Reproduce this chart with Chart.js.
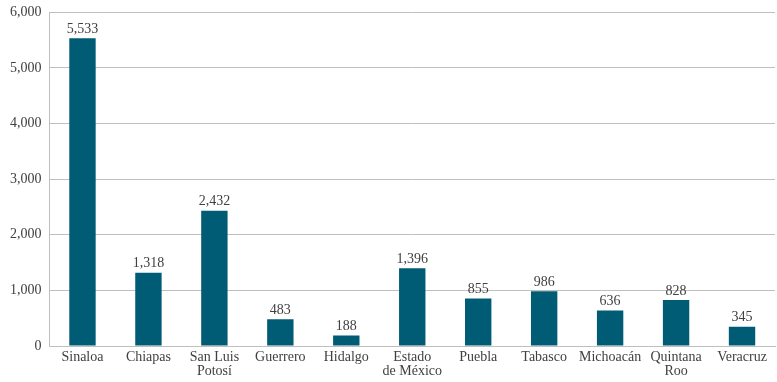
<!DOCTYPE html>
<html><head><meta charset="utf-8">
<script src="https://cdn.jsdelivr.net/npm/chart.js@4/dist/chart.umd.min.js"></script>
<style>html,body{margin:0;padding:0;background:#fff}#w{width:777px;height:382px}</style>
</head><body><div id="w"><canvas id="c"></canvas></div>
<script>
const categories = ["Sinaloa","Chiapas",["San Luis","Potosí"],"Guerrero","Hidalgo",["Estado","de México"],"Puebla","Tabasco","Michoacán",["Quintana","Roo"],"Veracruz"];
const values = [5533,1318,2432,483,188,1396,855,986,636,828,345];
const yTicks = [0,1000,2000,3000,4000,5000,6000];
const FONT = "'Liberation Serif', 'DejaVu Serif', serif";
const labelPlugin = {
  id:'lbl',
  afterDatasetsDraw(chart){
    const ctx = chart.ctx;
    const meta = chart.getDatasetMeta(0);
    ctx.save();
    ctx.font = "14px " + FONT;
    ctx.fillStyle = "#404040";
    ctx.textAlign = "center";
    ctx.textBaseline = "bottom";
    meta.data.forEach((b,i)=>{
      ctx.fillText(values[i].toLocaleString('en-US'), b.x, b.y - 2);
    });
    ctx.restore();
  }
};
new Chart(document.getElementById('c'),{
  type:'bar',
  data:{labels:categories,datasets:[{data:values,backgroundColor:'#005b74',barPercentage:0.8,categoryPercentage:0.5}]},
  options:{
    responsive:true,maintainAspectRatio:false,animation:false,
    layout:{padding:{top:8,right:2,left:2,bottom:0}},
    plugins:{legend:{display:false},tooltip:{enabled:false}},
    scales:{
      x:{grid:{display:false,drawTicks:false},border:{color:'#bfbfbf'},
         ticks:{color:'#404040',font:{family:FONT,size:14,lineHeight:1.0},maxRotation:0,autoSkip:false,padding:4}},
      y:{min:0,max:6000,afterBuildTicks(a){a.ticks=yTicks.map(v=>({value:v}));},
         grid:{color:'#bfbfbf',drawTicks:false},border:{color:'#bfbfbf'},
         ticks:{color:'#404040',font:{family:FONT,size:14,lineHeight:0.6},padding:8,callback:v=>v.toLocaleString('en-US')}}
    }
  },
  plugins:[labelPlugin]
});
</script></body></html>
